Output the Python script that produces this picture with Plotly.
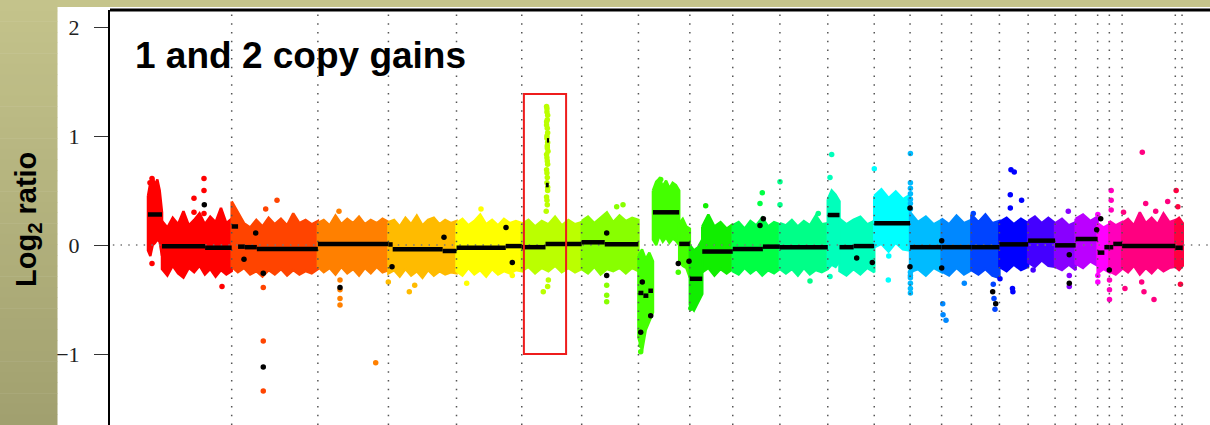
import numpy as np
import plotly.graph_objects as go

# ---------------- data ----------------
chrom_names = ["1", "2", "3", "4", "5", "6", "7", "8", "9", "10", "11", "12",
               "13", "14", "15", "16", "17", "18", "19", "20", "21", "22", "X", "Y"]
chrom_colors = ["#ff0000", "#ff4400", "#ff8000", "#ffbb00", "#ffff00", "#bbff00",
                "#88ff00", "#44ff00", "#11ee00", "#00ff44", "#00ff88", "#00ffbb",
                "#00ffff", "#00bbff", "#0088ff", "#0044ff", "#0000ff", "#4400ff",
                "#8800ff", "#bb00ff", "#ff00ff", "#ff00bb", "#ff0080", "#ff0040"]
# cumulative genomic end of each chromosome (Mb)
chrom_end = [236, 479, 678, 870, 1054, 1223, 1383, 1528, 1649, 1782, 1917, 2048,
             2149, 2238, 2322, 2401, 2482, 2558, 2616, 2678, 2711, 2747, 2897, 2916]

# segmentation calls (black lines)
seg_chr = [0, 0, 0, 1, 1, 1, 1, 2, 3, 3, 3, 4, 4, 5, 5, 5, 5, 6, 6, 7, 7, 7, 7, 7,
           8, 8, 9, 9, 10, 11, 11, 11, 12, 13, 14, 15, 16, 17, 18, 19, 20, 20, 21, 21, 22, 23]
seg_start = [0, 39.5, 161, 236, 254, 273, 307, 479, 678, 690, 831, 870, 1009, 1054, 1121, 1122, 1125,
             1223, 1288, 1383, 1397, 1411, 1424, 1498, 1528, 1563, 1649, 1734, 1782, 1917, 1950, 1990,
             2048, 2149, 2238, 2322, 2401, 2482, 2558, 2616, 2678, 2697, 2711, 2722, 2747, 2897]
seg_end = [39.5, 161, 236, 254, 273, 307, 479, 678, 690, 831, 870, 1009, 1054, 1121, 1223, 1130, 1131,
           1288, 1383, 1397, 1411, 1424, 1498, 1528, 1563, 1649, 1734, 1782, 1917, 1950, 1990, 2048,
           2149, 2238, 2322, 2401, 2482, 2558, 2616, 2678, 2697, 2711, 2722, 2747, 2897, 2918]
seg_value = [0.28, -0.012, -0.025, 0.17, -0.015, -0.02, -0.037, 0.01, 0.005, -0.04, -0.055, -0.025, -0.01,
             -0.02, 0.01, 0.55, 0.96, 0.025, 0.008, -0.44, -0.465, -0.42, 0.30, 0.01, -0.31, -0.06,
             -0.037, -0.015, -0.02, 0.275, -0.02, -0.01, 0.2, -0.02, -0.02, -0.02, 0.006, 0.04, -0.003,
             0.055, -0.07, -0.02, -0.02, 0.01, -0.01, -0.025]

# single-probe segment calls (black dots)
call_x = [158.8, 270.7, 303.7, 325.1, 325.1, 541.4, 688.1, 834.7, 1009.6, 1027.3, 1293.5, 1293.5,
          1393.9, 1417.6, 1389.4, 1495.4, 1525.6, 1725.8, 1735.2, 1998.5, 2042.5, 2148.8, 2148.8,
          2238.2, 2238.2, 2382.0, 2390.5, 2598.0, 2598.0, 2675.3, 2686.6, 2710.9]
call_y = [0.37, -0.13, 0.11, -0.26, -1.12, -0.39, -0.2, 0.07, 0.16, -0.16, 0.11, -0.28,
          -0.34, -0.65, -0.8, -0.17, -0.15, 0.18, 0.24, -0.12, -0.16, 0.34, -0.2,
          0.04, -0.21, -0.43, -0.54, -0.35, -0.09, 0.14, 0.24, -0.23]

# probe cloud envelopes: chromosome, start, end, upper edge, lower edge
cloud_chr = [0, 0, 1, 2, 3, 4, 5, 6, 7, 7, 7, 8, 8, 9, 10, 11, 11, 12, 13, 14, 15, 16, 17, 18,
             19, 20, 21, 22, 23]
cloud_start = [0, 39.5, 236, 479, 678, 870, 1054, 1223, 1383, 1424, 1498, 1528, 1563, 1649, 1782,
               1917, 1950, 2048, 2149, 2238, 2322, 2401, 2482, 2558, 2616, 2678, 2711, 2747, 2897]
cloud_end = [39.5, 236, 479, 678, 870, 1054, 1223, 1383, 1424, 1498, 1528, 1563, 1649, 1782, 1917,
             1950, 2048, 2149, 2238, 2322, 2401, 2482, 2558, 2616, 2678, 2711, 2747, 2897, 2918]
cloud_top = [
    [0.45, 0.57, 0.62, 0.55, 0.6, 0.5, 0.3],
    [0.22, 0.16, 0.25, 0.19, 0.31, 0.18, 0.23, 0.29, 0.19, 0.26, 0.21, 0.34, 0.2, 0.24],
    [0.4, 0.3, 0.2, 0.16, 0.23, 0.17, 0.25, 0.19, 0.24, 0.18, 0.29, 0.2, 0.23, 0.19, 0.22],
    [0.2, 0.23, 0.18, 0.27, 0.19, 0.24, 0.2, 0.26, 0.19, 0.23, 0.2, 0.24, 0.21],
    [0.21, 0.23, 0.17, 0.25, 0.19, 0.27, 0.18, 0.23, 0.25, 0.19, 0.23, 0.2, 0.22],
    [0.2, 0.24, 0.18, 0.22, 0.28, 0.19, 0.23, 0.18, 0.24, 0.2, 0.22, 0.2],
    [0.19, 0.23, 0.17, 0.22, 0.19, 0.26, 0.18, 0.23, 0.19, 0.21],
    [0.22, 0.26, 0.2, 0.25, 0.3, 0.21, 0.27, 0.22, 0.25, 0.23],
    [-0.1, -0.04, -0.13, -0.07, -0.15],
    [0.5, 0.58, 0.61, 0.54, 0.59, 0.52, 0.57, 0.55, 0.5],
    [0.2, 0.24, 0.17, 0.15],
    [0.0, -0.05, -0.02, 0.05],
    [0.17, 0.28, 0.17, 0.21, 0.15, 0.19],
    [0.18, 0.21, 0.15, 0.22, 0.18, 0.25, 0.17, 0.21, 0.19],
    [0.2, 0.18, 0.23, 0.17, 0.22, 0.18, 0.27, 0.19, 0.2],
    [0.42, 0.5, 0.46, 0.4],
    [0.24, 0.19, 0.23, 0.26, 0.19, 0.22],
    [0.45, 0.51, 0.43, 0.49, 0.42, 0.46],
    [0.3, 0.21, 0.26, 0.19, 0.23],
    [0.24, 0.19, 0.27, 0.2, 0.23],
    [0.28, 0.21, 0.28, 0.2, 0.22],
    [0.21, 0.25, 0.19, 0.24, 0.2],
    [0.22, 0.26, 0.2, 0.25, 0.2],
    [0.2, 0.24, 0.18, 0.21],
    [0.24, 0.28, 0.22, 0.26],
    [0.2, 0.16, 0.19],
    [0.22, 0.18, 0.21],
    [0.2, 0.24, 0.18, 0.3, 0.2, 0.25, 0.19, 0.29, 0.21, 0.23],
    [0.22, 0.25, 0.2],
]
cloud_bot = [
    [-0.05, -0.1, 0.0, 0.02, 0.05, 0.03, -0.1],
    [-0.22, -0.28, -0.19, -0.26, -0.3, -0.21, -0.25, -0.19, -0.27, -0.22, -0.29, -0.23, -0.27, -0.24],
    [-0.2, -0.25, -0.21, -0.27, -0.24, -0.29, -0.23, -0.27, -0.22, -0.28, -0.23, -0.27, -0.24, -0.26, -0.22],
    [-0.2, -0.25, -0.21, -0.27, -0.2, -0.26, -0.22, -0.28, -0.21, -0.26, -0.2, -0.25, -0.23],
    [-0.26, -0.23, -0.29, -0.22, -0.28, -0.24, -0.3, -0.23, -0.28, -0.24, -0.27, -0.25, -0.26],
    [-0.24, -0.28, -0.21, -0.27, -0.23, -0.29, -0.22, -0.27, -0.24, -0.26, -0.23, -0.24],
    [-0.24, -0.2, -0.26, -0.21, -0.24, -0.19, -0.25, -0.21, -0.25, -0.22],
    [-0.22, -0.26, -0.2, -0.27, -0.22, -0.24, -0.21, -0.26, -0.21, -0.24],
    [-0.85, -0.97, -0.78, -0.7, -0.62],
    [0.05, 0.0, 0.09, 0.03, 0.07, 0.02, 0.06, 0.04, 0.0],
    [-0.15, -0.19, -0.21, -0.3],
    [-0.55, -0.6, -0.52, -0.45],
    [-0.25, -0.21, -0.28, -0.22, -0.26, -0.22],
    [-0.24, -0.27, -0.21, -0.26, -0.22, -0.28, -0.23, -0.26, -0.22],
    [-0.22, -0.26, -0.22, -0.28, -0.21, -0.27, -0.23, -0.25, -0.22],
    [-0.22, -0.18, -0.2, -0.15],
    [-0.24, -0.28, -0.22, -0.27, -0.21, -0.25],
    [-0.02, 0.01, -0.06, 0.02, -0.04, -0.05],
    [-0.25, -0.22, -0.28, -0.21, -0.25],
    [-0.24, -0.28, -0.21, -0.27, -0.23],
    [-0.23, -0.27, -0.22, -0.28, -0.3],
    [-0.2, -0.24, -0.18, -0.23, -0.2],
    [-0.16, -0.2, -0.14, -0.19, -0.2],
    [-0.2, -0.23, -0.18, -0.23],
    [-0.17, -0.21, -0.15, -0.19],
    [-0.26, -0.22, -0.25],
    [-0.24, -0.27, -0.22],
    [-0.21, -0.25, -0.19, -0.27, -0.21, -0.26, -0.2, -0.24, -0.21, -0.2],
    [-0.2, -0.23, -0.19],
]

# outlying probes (chromosome, position Mb, log2 ratio)
out_chr = [0, 0, 0, 0, 0, 0, 0, 0, 0,
           1, 1, 1, 1, 1,
           2, 2, 2, 2, 2, 2,
           3, 3, 3,
           4, 4, 4,
           5, 5, 5, 5, 5, 5, 5, 5, 5, 5, 5, 5, 5, 5, 5, 5, 5, 5, 5, 5, 5, 5, 5, 5, 5, 5, 5, 5,
           5, 5, 5, 5,
           6, 6, 6, 6, 6,
           7, 7, 7, 7,
           8, 8,
           9, 9,
           10, 10, 10, 10,
           11, 11, 11,
           12, 12, 12,
           13, 13, 13, 13, 13, 13, 13, 13, 13, 13, 13, 13, 13,
           14, 14, 14, 14,
           15, 15, 15, 15,
           16, 16, 16, 16, 16, 16, 16, 16,
           17,
           18, 18, 18,
           20, 20, 20,
           21, 21, 21, 21, 21, 21,
           22, 22, 22, 22, 22, 22, 22, 22, 22,
           23, 23, 23]
out_x = [11.3, 5.6, 11.3, 157.9, 157.9, 157.9, 129.7, 129.7, 208.7,
         331.9, 363.8, 325.1, 325.1, 325.1,
         538.6, 541.4, 541.4, 541.4, 541.4, 642.1,
         736.9, 752.1, 677.7,
         939.1, 898.7, 1027.3,
         1124, 1125, 1126, 1124, 1127, 1125, 1126, 1128, 1125, 1127, 1124, 1126, 1125, 1127, 1124, 1126,
         1125, 1127, 1124, 1126, 1125, 1127, 1126, 1124, 1126, 1125, 1127, 1125,
         1114.7, 1123, 1129, 1127,
         1321.7, 1339.5, 1293.5, 1293.5, 1293.5,
         1445.8, 1389.4, 1390, 1495.4,
         1572.7, 1531,
         1725.8, 1732.3,
         1782.2, 1782.2, 1866.8, 1890.2,
         1928, 1923.2, 1923.2,
         2048.2, 2087.7, 2089,
         2150, 2150, 2150, 2150, 2150, 2150, 2150, 2150, 2150, 2150, 2150, 2150, 2150,
         2241.1, 2242, 2250.4, 2302,
         2327.3, 2383.7, 2385.7, 2388.5,
         2433.6, 2442.9, 2431.7, 2431.7, 2463.5, 2437.8, 2439, 2402.6,
         2496,
         2595.2, 2598, 2598,
         2678.5, 2678.5, 2678.5,
         2716.2, 2716.2, 2716.2, 2711.4, 2711.4, 2711.4,
         2803.9, 2813.5, 2841.7, 2875.5, 2808.7, 2836.9, 2802.2, 2755, 2751,
         2899.4, 2904.2, 2911.5]
out_y = [0.61, 0.57, -0.17, 0.61, 0.5, 0.29, 0.43, 0.3, -0.38,
         0.33, 0.41, -0.39, -0.88, -1.34,
         0.31, -0.32, -0.41, -0.49, -0.55, -1.08,
         -0.43, -0.37, -0.34,
         0.33, -0.35, -0.28,
         1.27, 1.22, 1.15, 1.1, 1.03, 0.98, 0.91, 0.86, 0.8, 0.74, 0.69, 0.62, 0.57, 0.5, 0.44, 0.37,
         1.25, 1.19, 1.13, 1.07, 1.0, 0.94, 0.89, 0.83, 0.77, 0.66, 0.53, 0.41,
         -0.43, 0.31, -0.32, -0.38,
         0.35, 0.37, -0.37, -0.46, -0.52,
         0.6, -0.98, -0.92, -0.25,
         0.36, -0.58,
         0.38, 0.48,
         0.58, 0.37, -0.33, 0.29,
         0.83, 0.62, -0.29,
         0.7, -0.32, -0.1,
         0.84, 0.57, 0.52, 0.47, 0.42, 0.38, 0.33, -0.25, -0.3, -0.35, -0.4, -0.44, -0.28,
         -0.54, -0.64, -0.69, -0.35,
         0.29, -0.36, -0.49, -0.59,
         0.69, 0.67, 0.46, 0.34, 0.41, -0.4, -0.43, -0.31,
         -0.23,
         0.31, -0.28, -0.38,
         0.28, -0.28, -0.34,
         0.5, 0.41, 0.32, -0.32, -0.41, -0.5,
         0.85, 0.38, 0.31, 0.4, -0.43, -0.5, -0.34, -0.4, 0.3,
         0.5, 0.35, -0.36]

y_ticks = [-1, 0, 1, 2]
y_tick_text = ["\u22121", "0", "1", "2"]

# box around the chromosome 6 amplification
box_x = [1060, 1179]
box_y = [-1.0, 1.385]

# ---------------- layout constants ----------------
W, H = 1210, 425
ML, MT = 110, 10
PW, PH = W - ML, H - MT
X_RANGE = [(ML - 148) * 2.82, (W - 148) * 2.82]
Y_RANGE = [(245 - H) / 109, (245 - MT) / 109]


def pxx(px):
    return (px - ML) / PW


def pxy(py):
    return (H - py) / PH


fig = go.Figure()

# probe clouds
for c, s, e, top, bot in zip(cloud_chr, cloud_start, cloud_end, cloud_top, cloud_bot):
    xt = np.linspace(s, e, len(top))
    xb = np.linspace(e, s, len(bot))
    xs = list(xt) + list(xb) + [xt[0]]
    ys = list(top) + list(bot[::-1]) + [top[0]]
    fig.add_trace(go.Scatter(x=xs, y=ys, mode="lines", fill="toself",
                             fillcolor=chrom_colors[c],
                             line=dict(color=chrom_colors[c], width=2.5),
                             hoverinfo="skip", showlegend=False))

# outlying probes
fig.add_trace(go.Scatter(x=out_x, y=out_y, mode="markers",
                         marker=dict(size=5.5, color=[chrom_colors[c] for c in out_chr], line=dict(width=0)),
                         hoverinfo="skip", showlegend=False))

# dotted chromosome boundaries and zero line (above the probes, below the calls)
gx, gy = [], []
for ce in chrom_end:
    gx += [ce, ce, None]
    gy += [Y_RANGE[0], Y_RANGE[1], None]
fig.add_trace(go.Scatter(x=gx, y=gy, mode="lines",
                         line=dict(color="#555555", width=1.5, dash="1.5px,7.2px"),
                         hoverinfo="skip", showlegend=False))
fig.add_trace(go.Scatter(x=[X_RANGE[0] + 8, X_RANGE[1]], y=[0, 0], mode="lines",
                         line=dict(color="#777777", width=1.5, dash="1.5px,6.2px"),
                         hoverinfo="skip", showlegend=False))

# segments
sx, sy = [], []
for s, e, v in zip(seg_start, seg_end, seg_value):
    sx += [s, e, None]
    sy += [v, v, None]
fig.add_trace(go.Scatter(x=sx, y=sy, mode="lines", line=dict(color="black", width=4.5),
                         hoverinfo="skip", showlegend=False))
fig.add_trace(go.Scatter(x=call_x, y=call_y, mode="markers",
                         marker=dict(size=5.5, color="black"),
                         hoverinfo="skip", showlegend=False))

shapes = []
# background panels
shapes.append(dict(type="rect", xref="paper", yref="paper", x0=pxx(0), x1=pxx(W), y0=pxy(7), y1=pxy(0),
                   fillcolor="#c5c48b", line=dict(width=0), layer="below"))
n_str = 40
c_top = np.array([196, 195, 139])
c_bot = np.array([161, 160, 111])
for i in range(n_str):
    f = (i + 0.5) / n_str
    col = c_top * (1 - f) + c_bot * f
    y0 = H * i / n_str
    y1 = H * (i + 1) / n_str
    shapes.append(dict(type="rect", xref="paper", yref="paper", x0=pxx(0), x1=pxx(57.5),
                       y0=pxy(y1 + 0.5), y1=pxy(y0),
                       fillcolor="rgb(%d,%d,%d)" % tuple(col.round().astype(int)),
                       line=dict(width=0), layer="below"))
# top frame
shapes.append(dict(type="line", xref="paper", yref="paper", x0=0, x1=1, y0=1, y1=1,
                   line=dict(color="black", width=3), layer="above"))
# highlight box
shapes.append(dict(type="rect", xref="x", yref="y", x0=box_x[0], x1=box_x[1], y0=box_y[0], y1=box_y[1],
                   line=dict(color="#ee1c1c", width=2), fillcolor="rgba(0,0,0,0)", layer="above"))

annotations = [
    dict(text="<b>1 and 2 copy gains</b>", xref="paper", yref="paper", x=pxx(133), y=pxy(56),
         xanchor="left", yanchor="middle", showarrow=False,
         font=dict(family="Liberation Sans, Arial", size=37, color="black")),
    dict(text="<b>Log<sub>2</sub> ratio</b>", xref="paper", yref="paper", x=pxx(28), y=pxy(220),
         xanchor="center", yanchor="middle", textangle=-90, showarrow=False,
         font=dict(family="Liberation Sans, Arial", size=29, color="black")),
]

fig.update_layout(
    width=W, height=H, autosize=False,
    margin=dict(l=ML, r=0, t=MT, b=0, pad=0),
    paper_bgcolor="white", plot_bgcolor="white",
    shapes=shapes, annotations=annotations, showlegend=False,
    xaxis=dict(range=X_RANGE, showgrid=False, zeroline=False,
               showticklabels=False, showline=False, ticks=""),
    yaxis=dict(range=Y_RANGE, showgrid=False, zeroline=False,
               tickvals=y_ticks, ticktext=y_tick_text, ticks="outside", ticklen=14,
               tickwidth=1, tickcolor="#333333", showline=True, linewidth=2, linecolor="black",
               tickfont=dict(family="Liberation Serif", size=22, color="#222222"),
               ticklabelstandoff=10),
)

fig.write_html("out.html", config={"displayModeBar": False},
               post_script="document.body.style.margin='0';document.body.style.overflow='hidden';")
